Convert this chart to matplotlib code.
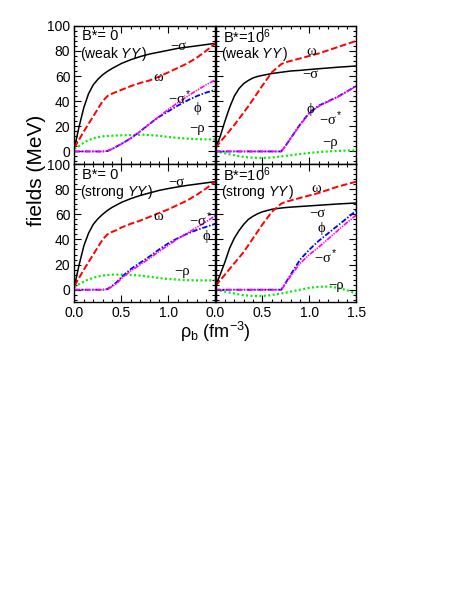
import matplotlib
matplotlib.use("Agg")
import matplotlib.pyplot as plt
from matplotlib.ticker import MultipleLocator, FuncFormatter

# baryon density grid (fm^-3), shared by all four panels
rho = [0, 0.05, 0.1, 0.15, 0.2, 0.25, 0.3, 0.35, 0.4, 0.45, 0.5, 0.6, 0.7, 0.75,
       0.8, 0.9, 1.0, 1.1, 1.2, 1.3, 1.4, 1.5]

# B*=0, weak YY
sig_w0 = [3, 20, 35, 46, 53, 57.5, 61, 63.7, 66, 68, 70, 73, 75.5, 76.5, 77.5, 79,
          80.5, 82, 83, 84, 85, 86]
ome_w0 = [3, 9.5, 16, 22, 28, 34, 40, 44, 46, 47.5, 49, 52, 54.5, 55.5, 56.5, 59.5,
          63, 66.5, 70, 74.5, 80, 86]
phi_w0 = [0, 0, 0, 0, 0, 0, 0, 0.3, 2, 4, 6, 10.5, 16, 19, 22, 27.5, 32, 36.5, 40.5,
          44, 46.8, 49]
sst_w0 = [0, 0, 0, 0, 0, 0, 0, 0.3, 2, 4, 6, 10.5, 16, 19, 22, 27.8, 33.5, 38.8, 43.8,
          48.5, 53, 57]
rhm_w0 = [2, 4.5, 7, 9, 10.5, 11.3, 12, 12.3, 12.5, 12.7, 12.8, 13, 13.3, 13.3, 13,
          12.5, 11.5, 10.8, 10.2, 9.8, 9.6, 9.5]

# B*=10^6, weak YY
sig_w6 = [2, 12, 24, 35, 44, 50, 54, 56.5, 58.5, 59.7, 60.5, 62, 63, 63.5, 64, 64.5,
          65.2, 65.8, 66.4, 67, 67.5, 68]
ome_w6 = [3, 7.5, 12, 16.5, 21, 26, 31, 36, 41.5, 47, 52.5, 63, 69.5, 71, 72, 74, 76,
          78, 80.5, 83, 85.5, 88]
phi_w6 = [0, 0, 0, 0, 0, 0, 0, 0, 0, 0, 0, 0, 0, 5, 10.5, 21.5, 31, 36.5, 40, 43.5,
          47.8, 52.3]
sst_w6 = [0, 0, 0, 0, 0, 0, 0, 0, 0, 0, 0, 0, 0, 5, 10.5, 21, 30.5, 36, 39.7, 43.3,
          47.6, 52]
rhm_w6 = [0, -0.7, -1.5, -2.3, -3, -3.7, -4.3, -4.7, -5, -5.2, -5.2, -4.8, -4, -3.5,
          -3, -2, -1.2, -0.5, 0, 0.4, 0.7, 0.9]

# B*=0, strong YY
sig_s0 = [3, 20, 35, 45, 52, 56.5, 60, 63, 65.5, 67.5, 69.5, 72.5, 75, 76, 77, 79,
          80.5, 81.8, 83, 84, 85, 86]
ome_s0 = [3, 9.5, 16, 22, 28, 34, 40, 44, 46, 47.5, 49.5, 52.5, 55, 56.5, 58, 61, 64,
          67.5, 71, 75.5, 80.5, 86]
phi_s0 = [0, 0, 0, 0, 0, 0, 0, 0.5, 3, 6, 10, 16.5, 21.5, 24, 26.5, 32, 37, 41, 44.5,
          47.5, 50, 52.5]
sst_s0 = [0, 0, 0, 0, 0, 0, 0, 0.3, 2.5, 5, 9, 15, 20, 22.5, 25, 30.5, 35.5, 40.5, 45,
          49.5, 54, 59]
rhm_s0 = [2, 4.5, 6.5, 8.2, 9.5, 10.5, 11.2, 11.7, 12, 12, 12, 11.8, 11.2, 10.8, 10.3,
          9.3, 8.5, 8, 7.6, 7.4, 7.4, 7.5]

# B*=10^6, strong YY
sig_s6 = [3, 12, 22, 33, 41, 47, 52, 56, 58.5, 60.5, 62, 64, 65, 65.4, 65.7, 66.2,
          66.7, 67.2, 67.7, 68.2, 68.6, 69]
ome_s6 = [3, 7.5, 12, 16.5, 21, 25.5, 30, 35.5, 41, 46.5, 52, 62, 68.5, 70, 71, 73, 75,
          77, 79.5, 82, 84, 86]
phi_s6 = [0, 0, 0, 0, 0, 0, 0, 0, 0, 0, 0, 0, 0, 6, 12, 24, 32, 39, 45, 51, 57, 63]
sst_s6 = [0, 0, 0, 0, 0, 0, 0, 0, 0, 0, 0, 0, 0, 5.5, 11, 21, 28, 34, 40.5, 47, 53.5,
          59.5]
rhm_s6 = [0, -0.7, -1.5, -2.3, -3, -3.7, -4.3, -4.7, -5, -5.1, -5, -4.2, -3, -2.3,
          -1.5, 0, 1.5, 2.3, 2.5, 1.5, -0.5, -3]

plt.rcParams["font.family"] = ["Liberation Sans", "DejaVu Sans"]
plt.rcParams["mathtext.fontset"] = "custom"
plt.rcParams["mathtext.rm"] = "Liberation Sans"
plt.rcParams["mathtext.it"] = "Liberation Sans:italic"

GREEK = ["Liberation Serif", "DejaVu Serif"]

fig = plt.figure(figsize=(4.69, 6.07), dpi=100)
W, H = 0.3006, 0.2278
x0, x1 = 0.1588, 0.4595
y_top, y_bot = 0.7298, 0.502

panels = [
    # (position, data, header, sub-header, greek labels)
    ((x0, y_top), (sig_w0, ome_w0, phi_w0, sst_w0, rhm_w0), "B*= 0", "(weak $YY\\,$)",
     [("−σ", 1.02, 83.5), ("ω", 0.84, 59), ("−σ$^*$", 1.0, 42.5),
      ("ϕ", 1.27, 34), ("−ρ", 1.22, 18)]),
    ((x1, y_top), (sig_w6, ome_w6, phi_w6, sst_w6, rhm_w6), "B*=10$^6$", "(weak $YY\\,$)",
     [("ω", 0.97, 79.5), ("−σ", 0.92, 61.5), ("ϕ", 0.97, 33.5),
      ("−σ$^*$", 1.1, 26), ("−ρ", 1.14, 7)]),
    ((x0, y_bot), (sig_s0, ome_s0, phi_s0, sst_s0, rhm_s0), "B*= 0", "(strong $YY\\,$)",
     [("−σ", 1.0, 85), ("ω", 0.84, 58.5), ("−σ$^*$", 1.22, 56),
      ("ϕ", 1.36, 42), ("−ρ", 1.06, 14.5)]),
    ((x1, y_bot), (sig_s6, ome_s6, phi_s6, sst_s6, rhm_s6), "B*=10$^6$", "(strong $YY\\,$)",
     [("ω", 1.02, 80.5), ("−σ", 1.0, 61), ("ϕ", 1.09, 49),
      ("−σ$^*$", 1.05, 26.5), ("−ρ", 1.2, 3.5)]),
]

for i, ((px, py), (sig, ome, phi, sst, rhm), head, sub, greek) in enumerate(panels):
    ax = fig.add_axes([px, py, W, H])
    ax.plot(rho, sig, color="black", lw=1.1)
    ax.plot(rho, ome, color="#ff0000", lw=1.4, ls=(0, (3.4, 1.4)))
    ax.plot(rho, rhm, color="#00ee00", lw=1.6, ls=(0, (0.9, 1.1)))
    ax.plot(rho, phi, color="#0000ff", lw=1.3, ls=(0, (3, 1, 0.8, 1)))
    ax.plot(rho, sst, color="#ff00ff", lw=1.2, ls=(0, (3, 0.7, 0.8, 0.7, 0.8, 0.7)))

    ax.set_xlim(0, 1.5)
    ax.set_ylim(-10, 100)
    ax.xaxis.set_major_locator(MultipleLocator(0.5))
    ax.xaxis.set_minor_locator(MultipleLocator(0.1))
    ax.yaxis.set_major_locator(MultipleLocator(20))
    ax.yaxis.set_minor_locator(MultipleLocator(4))
    ax.tick_params(which="both", direction="in", top=True, right=True, width=0.8,
                   labelsize=10, pad=3)
    ax.tick_params(which="major", length=5)
    ax.tick_params(which="minor", length=2.5)
    for s in ax.spines.values():
        s.set_linewidth(1.0)

    left = i % 2 == 0
    bottom = i >= 2
    ax.tick_params(labelleft=left, labelbottom=bottom)
    if left:
        ax.xaxis.set_major_formatter(FuncFormatter(lambda v, p: "" if v > 1.4 else f"{v:.1f}"))
    else:
        ax.xaxis.set_major_formatter(FuncFormatter(lambda v, p: f"{v:.1f}"))

    ax.text(0.08, 91.5, head, fontsize=10.5, ha="left", va="center")
    ax.text(0.06, 77.5, sub, fontsize=10, ha="left", va="center")
    for lab, tx, ty in greek:
        ax.text(tx, ty, lab, fontsize=10.5, family=GREEK, ha="left", va="center")

fig.text(36 / 469, 1 - 170 / 607, "fields (MeV)", fontsize=15, rotation=90,
         ha="center", va="center")
fig.text(215 / 469, 1 - 332 / 607, "ρ$_\\mathrm{b}$ (fm$^{-3}$)", fontsize=13,
         ha="center", va="center")

fig.savefig("out.png", dpi=100)
